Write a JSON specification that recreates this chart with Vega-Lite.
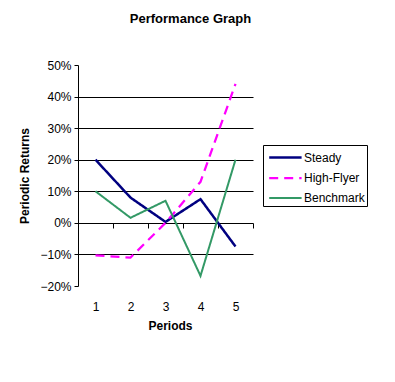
{
  "$schema": "https://vega.github.io/schema/vega-lite/v6.json",
  "autosize": "none",
  "padding": {"left": 78, "top": 65, "right": 142, "bottom": 96},
  "width": 175,
  "height": 221,
  "background": "white",
  "title": {
    "text": "Performance Graph",
    "font": "Liberation Sans",
    "fontSize": 13,
    "fontWeight": "bold",
    "color": "black",
    "anchor": "middle",
    "frame": "group",
    "dx": 25,
    "offset": 33
  },
  "data": {
    "values": [
      {"period": 1, "series": "Steady", "ret": 0.20},
      {"period": 2, "series": "Steady", "ret": 0.08},
      {"period": 3, "series": "Steady", "ret": 0.003},
      {"period": 4, "series": "Steady", "ret": 0.075},
      {"period": 5, "series": "Steady", "ret": -0.075},
      {"period": 1, "series": "High-Flyer", "ret": -0.103},
      {"period": 2, "series": "High-Flyer", "ret": -0.11},
      {"period": 3, "series": "High-Flyer", "ret": 0.0},
      {"period": 4, "series": "High-Flyer", "ret": 0.13},
      {"period": 5, "series": "High-Flyer", "ret": 0.44},
      {"period": 1, "series": "Benchmark", "ret": 0.10},
      {"period": 2, "series": "Benchmark", "ret": 0.016},
      {"period": 3, "series": "Benchmark", "ret": 0.07},
      {"period": 4, "series": "Benchmark", "ret": -0.168},
      {"period": 5, "series": "Benchmark", "ret": 0.20}
    ]
  },
  "config": {
    "view": {"stroke": null},
    "axis": {
      "labelFont": "Liberation Sans",
      "titleFont": "Liberation Sans",
      "labelColor": "black",
      "titleColor": "black",
      "labelFontSize": 12,
      "titleFontSize": 12,
      "titleFontWeight": "bold"
    },
    "legend": {
      "labelFont": "Liberation Sans",
      "labelFontSize": 12,
      "labelColor": "black"
    }
  },
  "mark": {"type": "line", "strokeCap": "butt"},
  "encoding": {
    "x": {
      "field": "period",
      "type": "quantitative",
      "scale": {"domain": [0.5, 5.5], "nice": false, "zero": false},
      "axis": {
        "values": [0.5, 1.5, 2.5, 3.5, 4.5, 5.5],
        "labelExpr": "datum.value > 5 ? '' : format(datum.value + 0.5, 'd')",
        "labelOffset": 17.5,
        "labelOverlap": false,
        "labelFlush": false,
        "offset": -63,
        "ticks": true,
        "tickColor": "black",
        "tickOpacity": 1,
        "tickWidth": 1,
        "tickSize": 5,
        "domain": false,
        "grid": false,
        "labelPadding": 73,
        "title": "Periods",
        "titlePadding": 8,
        "titleX": 92
      }
    },
    "y": {
      "field": "ret",
      "type": "quantitative",
      "scale": {"domain": [-0.2, 0.5], "nice": false, "zero": false},
      "axis": {
        "values": [-0.2, -0.1, 0, 0.1, 0.2, 0.3, 0.4, 0.5],
        "format": ".0%",
        "labelOverlap": false,
        "domainColor": "black",
        "domainWidth": 1,
        "tickColor": "black",
        "tickSize": 4,
        "labelPadding": 3,
        "grid": true,
        "gridColor": "black",
        "gridWidth": 1,
        "gridOpacity": {
          "condition": {"test": "datum.value > 0.45 || datum.value < -0.15", "value": 0},
          "value": 1
        },
        "title": "Periodic Returns",
        "titlePadding": 8
      }
    },
    "color": {
      "field": "series",
      "type": "nominal",
      "scale": {"domain": ["Steady", "High-Flyer", "Benchmark"], "range": ["#000080", "#FF00FF", "#339966"]},
      "legend": {
        "title": null,
        "orient": "none",
        "legendX": 185,
        "legendY": 80,
        "strokeColor": "black",
        "fillColor": "white",
        "padding": 2,
        "symbolType": "M-0.7,0H2.9",
        "symbolSize": 324,
        "rowPadding": 3.5,
        "labelOffset": 18
      }
    },
    "strokeDash": {
      "field": "series",
      "type": "nominal",
      "scale": {"domain": ["Steady", "High-Flyer", "Benchmark"], "range": [[1, 0], [9, 6], [1, 0]]},
      "legend": null
    },
    "strokeWidth": {
      "field": "series",
      "type": "nominal",
      "scale": {"domain": ["Steady", "High-Flyer", "Benchmark"], "range": [2.5, 2, 1]},
      "legend": null
    }
  }
}
